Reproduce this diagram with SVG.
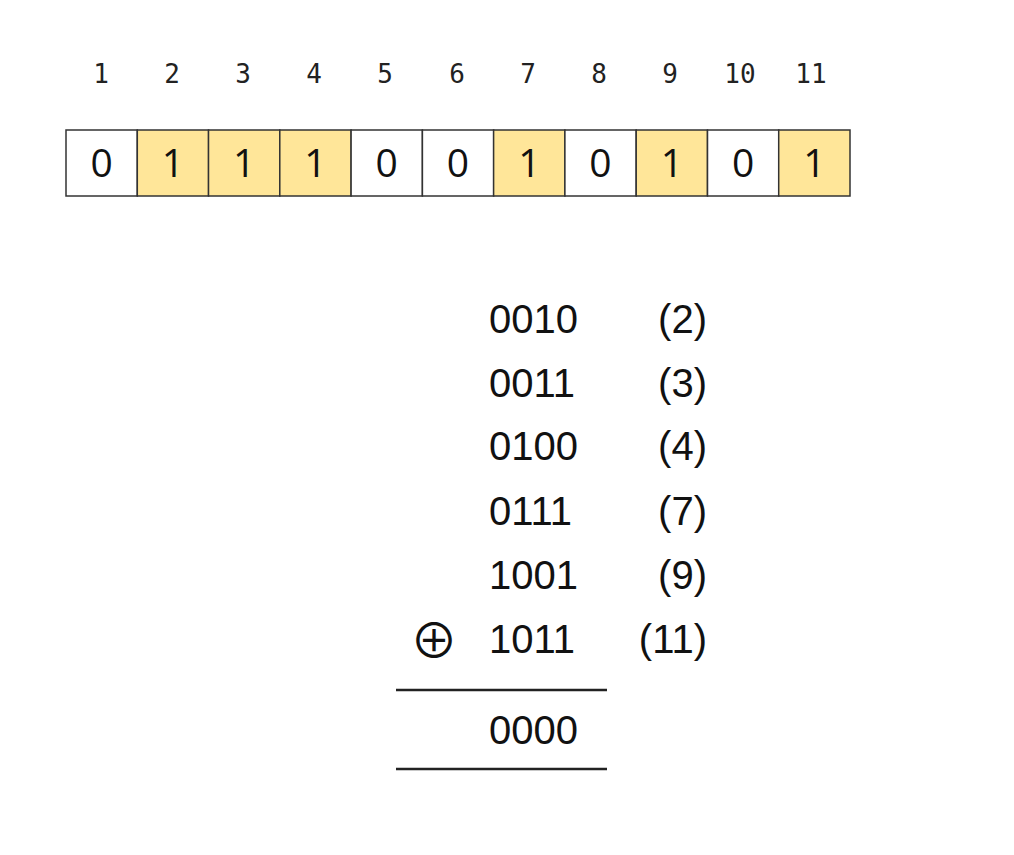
<svg xmlns="http://www.w3.org/2000/svg" width="1014" height="855" viewBox="0 0 1014 855">
<style>
.idx{font-family:"DejaVu Sans Mono",monospace;font-size:26px;fill:#222;text-anchor:middle}
.cell{stroke:#333;stroke-width:1.5}
.on{fill:#FFE699}
.off{fill:#fff}
.bit{font-family:"Open Sans","Liberation Sans",sans-serif;font-size:39px;fill:#111;text-anchor:middle}
.num{font-family:"Liberation Sans",Arial,sans-serif;font-size:40px;fill:#111}
.lbl{font-family:"Liberation Sans",Arial,sans-serif;font-size:40px;fill:#111;text-anchor:end}
.rule{stroke:#222;stroke-width:2.5}
.xor{font-family:"Noto Sans CJK SC","DejaVu Sans",sans-serif;font-size:48px;fill:#111;text-anchor:middle}
</style>
<rect width="1014" height="855" fill="#fff"/>
<g id="indices">
<text class="idx" x="101" y="83">1</text>
<text class="idx" x="172" y="83">2</text>
<text class="idx" x="243" y="83">3</text>
<text class="idx" x="314" y="83">4</text>
<text class="idx" x="385" y="83">5</text>
<text class="idx" x="457" y="83">6</text>
<text class="idx" x="528" y="83">7</text>
<text class="idx" x="599" y="83">8</text>
<text class="idx" x="670" y="83">9</text>
<text class="idx" x="740" y="83">10</text>
<text class="idx" x="811" y="83">11</text>
</g>
<g id="cells">
<rect class="cell off" x="66" y="130" width="71.3" height="66"/>
<rect class="cell on" x="137.3" y="130" width="71.3" height="66"/>
<rect class="cell on" x="208.5" y="130" width="71.3" height="66"/>
<rect class="cell on" x="279.8" y="130" width="71.3" height="66"/>
<rect class="cell off" x="351.1" y="130" width="71.3" height="66"/>
<rect class="cell off" x="422.4" y="130" width="71.3" height="66"/>
<rect class="cell on" x="493.6" y="130" width="71.3" height="66"/>
<rect class="cell off" x="564.9" y="130" width="71.3" height="66"/>
<rect class="cell on" x="636.2" y="130" width="71.3" height="66"/>
<rect class="cell off" x="707.5" y="130" width="71.3" height="66"/>
<rect class="cell on" x="778.7" y="130" width="71.3" height="66"/>
<text class="bit" x="101.6" y="177">0</text>
<text class="bit" x="172.9" y="177">1</text>
<text class="bit" x="244.2" y="177">1</text>
<text class="bit" x="315.5" y="177">1</text>
<text class="bit" x="386.7" y="177">0</text>
<text class="bit" x="458" y="177">0</text>
<text class="bit" x="529.3" y="177">1</text>
<text class="bit" x="600.5" y="177">0</text>
<text class="bit" x="671.8" y="177">1</text>
<text class="bit" x="743.1" y="177">0</text>
<text class="bit" x="814.4" y="177">1</text>
</g>
<g id="sum">
<text class="num" x="489" y="333">0010</text>
<text class="num" x="489" y="397">0011</text>
<text class="num" x="489" y="460">0100</text>
<text class="num" x="489" y="525">0111</text>
<text class="num" x="489" y="589">1001</text>
<text class="num" x="489" y="653">1011</text>
<text class="num" x="489" y="744">0000</text>
<text class="lbl" x="707" y="333">(2)</text>
<text class="lbl" x="707" y="397">(3)</text>
<text class="lbl" x="707" y="460">(4)</text>
<text class="lbl" x="707" y="525">(7)</text>
<text class="lbl" x="707" y="589">(9)</text>
<text class="lbl" x="707" y="653">(11)</text>
<text class="xor" x="434" y="658">⊕</text>
<line class="rule" x1="396" y1="690" x2="607" y2="690"/>
<line class="rule" x1="396" y1="769" x2="607" y2="769"/>
</g>
</svg>
